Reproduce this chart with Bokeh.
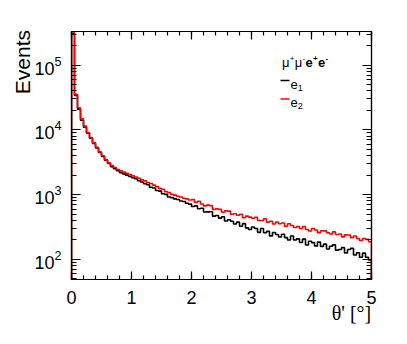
import math
from bokeh.plotting import figure
from bokeh.models import (FixedTicker, LogTickFormatter, LinearAxis, LogAxis, Label,
                          Range1d, BoxAnnotation, CustomJSTickFormatter)
from bokeh.embed import file_html
from bokeh.resources import INLINE

# ---------------- data ----------------
theta_min = 0.0
bin_width = 0.05
# e1 : black histogram, e2 : red histogram (events per bin)
e1_counts = [310000, 33900, 20900, 14100, 11000, 8910, 7410, 6170, 5250, 4470,
             3890, 3390, 3020, 2690, 2510, 2340, 2190, 2090, 2000, 1905,
             1820, 1760, 1640, 1565, 1470, 1420, 1300, 1270, 1160, 1135,
             1030, 1010, 920, 900, 860, 840, 800, 785, 735, 715,
             656, 672, 605, 618, 540, 542, 544, 466, 477, 434,
             457, 392, 410, 388, 353, 376, 325, 357, 307, 290,
             317, 301, 262, 300, 258, 271, 231, 260, 242, 222,
             245, 217, 199, 230, 200, 208, 183, 206, 167, 191,
             182, 162, 185, 159, 172, 145, 160, 168, 139, 142,
             152, 126, 142, 148, 117, 127, 108, 125, 108, 98]
e2_counts = [350000, 35500, 21900, 14800, 11500, 9120, 7590, 6310, 5370, 4570,
             3980, 3470, 3090, 2820, 2630, 2450, 2340, 2240, 2140, 2040,
             1950, 1875, 1790, 1690, 1630, 1540, 1490, 1405, 1330, 1250,
             1210, 1115, 1080, 1015, 985, 945, 920, 880, 860, 825,
             837, 760, 789, 717, 671, 690, 678, 592, 603, 592,
             534, 561, 557, 498, 506, 480, 498, 440, 466, 450,
             433, 448, 400, 399, 422, 377, 388, 353, 378, 355,
             366, 326, 356, 334, 311, 322, 300, 323, 289, 274,
             300, 285, 259, 277, 276, 258, 247, 266, 243, 247,
             223, 239, 238, 217, 230, 210, 196, 210, 204, 187]
series_names = ["e1", "e2"]
x_ticks = [0, 1, 2, 3, 4, 5]
y_ticks = [1e2, 1e3, 1e4, 1e5]
x_title = "θ' [°]"
y_title = "Events"

# ---------------- layout ----------------
FONT = "Liberation Sans"
W, H = 407, 344
FL, FT, FR, FB = 71, 31, 371, 279          # frame edges in canvas pixels
NBSP = "\u00a0"
p = figure(frame_width=FR - FL, frame_height=FB - FT,
           min_border_left=FL, min_border_right=W - FR,
           min_border_top=FT, min_border_bottom=H - FB,
           x_range=Range1d(0, 5), y_range=Range1d(49, 3.3e5),
           y_axis_type="log", output_backend="svg", toolbar_location=None,
           background_fill_color="white", border_fill_color="white")
p.xgrid.grid_line_color = None
p.ygrid.grid_line_color = None
p.outline_line_color = "black"
p.outline_line_width = 1.2


def step_path(counts):
    xs, ys = [theta_min], [1.0]
    for i, c in enumerate(counts):
        lo = theta_min + i * bin_width
        hi = lo + bin_width
        xs += [lo, hi]
        ys += [c, c]
    xs.append(theta_min + len(counts) * bin_width)
    ys.append(1.0)
    return xs, ys


for counts, color in [(e1_counts, "black"), (e2_counts, "#ff0000")]:
    xs, ys = step_path(counts)
    p.line(xs, ys, line_color=color, line_width=1.6)

x_minor = [i * 0.2 for i in range(26)]
y_minor = [k * 10 ** d for d in range(1, 6) for k in range(2, 10)]
xt = FixedTicker(ticks=x_ticks, minor_ticks=x_minor)
yt = FixedTicker(ticks=y_ticks, minor_ticks=y_minor)
blank = CustomJSTickFormatter(code="return ''")


def style(ax, major, minor):
    ax.axis_line_color = "black"
    ax.axis_line_width = 1.2
    ax.major_tick_line_width = 1.2
    ax.minor_tick_line_width = 1.2
    ax.major_tick_in = major
    ax.major_tick_out = 0
    ax.minor_tick_in = minor
    ax.minor_tick_out = 0
    ax.major_label_text_font = FONT
    ax.major_label_text_font_size = "18px"
    ax.major_label_text_color = "black"
    ax.axis_label_text_color = "black"


# The axis titles sit at the far end of each axis (ROOT style): they are
# centred by Bokeh, so they are padded on the near side with no-break spaces.
xa = p.xaxis[0]
xa.ticker = xt
style(xa, 8, 4)
xa.major_label_standoff = 11
xa.axis_label = NBSP * 52 + x_title
xa.axis_label_text_font = "Liberation Serif"
xa.axis_label_text_font_size = "20px"
xa.axis_label_text_font_style = "normal"
xa.axis_label_standoff = -5

ya = p.yaxis[0]
ya.ticker = yt
ya.formatter = LogTickFormatter()
style(ya, 9, 5)
ya.major_label_standoff = 10
ya.axis_label = NBSP * 32 + y_title
ya.axis_label_text_font = FONT
ya.axis_label_text_font_size = "21px"
ya.axis_label_text_font_style = "normal"
ya.axis_label_standoff = -3

top = LinearAxis(ticker=xt, formatter=blank)
style(top, 8, 4)
p.add_layout(top, "above")
right = LogAxis(ticker=yt, formatter=blank)
style(right, 9, 5)
p.add_layout(right, "right")


def sx(xw):
    return xw - FL


def sy(yw):
    return FB - yw


def lab(text, xw, yw, size, font=FONT, style="normal", align="left", color="black"):
    p.add_layout(Label(x=sx(xw), y=sy(yw), x_units="screen", y_units="screen", text=text,
                       text_font=font, text_font_size=f"{size}px", text_font_style=style,
                       text_align=align, text_baseline="alphabetic", text_color=color))


# legend header  mu+ mu- e+ e-
hx, hy = 281.5, 62
pieces = [("μ", 13, "normal", 0, 0.576), ("+", 8, "normal", 4, 0.584),
          ("μ", 13, "normal", 0, 0.576), ("-", 8, "normal", 4, 0.333),
          ("e", 13, "bold", 0, 0.556), ("+", 8, "bold", 4, 0.584),
          ("e", 13, "bold", 0, 0.556), ("-", 8, "bold", 4, 0.333)]
cx = hx
for t, s, st, up, w in pieces:
    lab(t, cx, hy - up, s, style=st)
    cx += w * s + 0.3

# legend entries
for name, color, yline in [(series_names[0], "black", 80), (series_names[1], "#ff0000", 98.5)]:
    p.add_layout(BoxAnnotation(left=sx(280), right=sx(289), top=sy(yline - 0.7), bottom=sy(yline + 0.7),
                               left_units="screen", right_units="screen",
                               top_units="screen", bottom_units="screen",
                               fill_color=color, fill_alpha=1.0, line_color=None))
    lab(name[0], 290, yline + 3.5, 13)
    lab(name[1], 290 + 0.556 * 13, yline + 7, 9)

open("out.html", "w").write(file_html(p, INLINE))
